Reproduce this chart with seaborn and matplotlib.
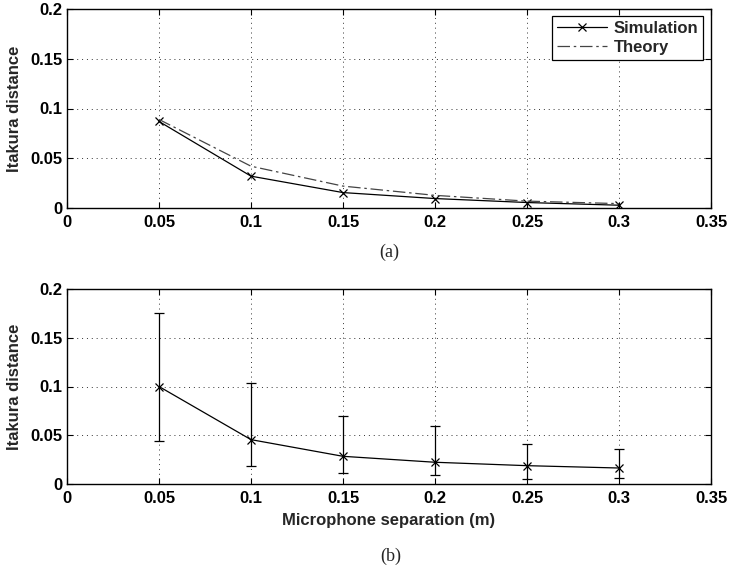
import numpy as np
import matplotlib
matplotlib.use("Agg")
import matplotlib.pyplot as plt
import seaborn as sns

# Microphone separations (m)
separation = [0.05, 0.10, 0.15, 0.20, 0.25, 0.30]

# (a) mean Itakura distance: simulation vs theory
sim_mean = [0.087, 0.032, 0.0155, 0.0095, 0.0055, 0.0028]
theory = [0.089, 0.042, 0.022, 0.0127, 0.0069, 0.0044]

# (b) simulation mean with lower / upper spread
b_mean = [0.100, 0.0455, 0.0284, 0.0223, 0.0188, 0.0164]
b_low = [0.0445, 0.018, 0.0116, 0.0092, 0.0055, 0.0062]
b_high = [0.1757, 0.1034, 0.0695, 0.0592, 0.0408, 0.036]

x_ticks = [0, 0.05, 0.1, 0.15, 0.2, 0.25, 0.3, 0.35]
x_tick_labels = ["0", "0.05", "0.1", "0.15", "0.2", "0.25", "0.3", "0.35"]
y_ticks = [0, 0.05, 0.1, 0.15, 0.2]
y_tick_labels = ["0", "0.05", "0.1", "0.15", "0.2"]

sns.set_theme(style="white")
plt.rcParams["font.family"] = ["Liberation Sans", "DejaVu Sans"]
plt.rcParams["font.weight"] = "bold"

W, H = 729, 569
fig = plt.figure(figsize=(W / 100, H / 100), dpi=100)

def px_axes(x0, y0, x1, y1):
    return fig.add_axes([x0 / W, 1 - y1 / H, (x1 - x0) / W, (y1 - y0) / H])

ax1 = px_axes(67, 9, 711, 208)
ax2 = px_axes(67, 289, 711, 484)

FS = 12
DASHDOT = (0, (10, 3, 2, 3))

def style(ax):
    ax.set_xlim(0, 0.35)
    ax.set_ylim(0, 0.2)
    ax.set_xticks(x_ticks)
    ax.set_xticklabels(x_tick_labels, fontsize=FS, fontweight="bold")
    ax.set_yticks(y_ticks)
    ax.set_yticklabels(y_tick_labels, fontsize=FS, fontweight="bold")
    ax.tick_params(direction="in", length=4, width=0.8, top=True, right=True,
                   bottom=True, left=True, colors="black", pad=3)
    ax.tick_params(axis="x", pad=5)
    ax.grid(True, linestyle=(0, (1, 4)), color="#333333", linewidth=0.7)
    for s in ax.spines.values():
        s.set_visible(True)
        s.set_color("black")
        s.set_linewidth(1.0)
    ax.set_ylabel("Itakura distance", fontsize=FS, fontweight="bold", labelpad=6)

marker_kw = dict(marker="x", markersize=6, markeredgewidth=0.9,
                 markeredgecolor="black", markerfacecolor="black")

# Panel (a)
sns.lineplot(x=separation, y=sim_mean, ax=ax1, color="black", linewidth=0.9,
             legend=False, **marker_kw)
sns.lineplot(x=separation, y=theory, ax=ax1, color="#444444", linewidth=0.9,
             linestyle=DASHDOT, legend=False)
style(ax1)
ax1.set_xlabel("")
sim_line, th_line = ax1.get_lines()[:2]
leg = ax1.legend([sim_line, th_line], ["Simulation", "Theory"],
                 loc="upper right", bbox_to_anchor=(0.988, 0.965),
                 borderaxespad=0, frameon=True, fancybox=False, framealpha=1,
                 edgecolor="black", handlelength=3.0, handletextpad=0.4,
                 prop={"weight": "bold", "size": FS}, borderpad=0.3,
                 labelspacing=0.25)
leg.get_frame().set_linewidth(0.9)

# Panel (b)
sns.lineplot(x=separation, y=b_mean, ax=ax2, color="black", linewidth=0.9,
             legend=False, **marker_kw)
yerr = [np.array(b_mean) - np.array(b_low), np.array(b_high) - np.array(b_mean)]
ax2.errorbar(separation, b_mean, yerr=yerr, fmt="none", ecolor="black",
             elinewidth=0.9, capsize=3.3, capthick=0.9)
style(ax2)
ax2.set_xlabel("Microphone separation (m)", fontsize=FS, fontweight="bold",
               labelpad=5)

fig.text(389 / W, 1 - 252 / H, "(a)", ha="center", va="center",
         fontsize=13, family="Liberation Serif", fontweight="normal")
fig.text(391 / W, 1 - 556 / H, "(b)", ha="center", va="center",
         fontsize=13, family="Liberation Serif", fontweight="normal")

fig.savefig("out.png", dpi=100, facecolor="white")
